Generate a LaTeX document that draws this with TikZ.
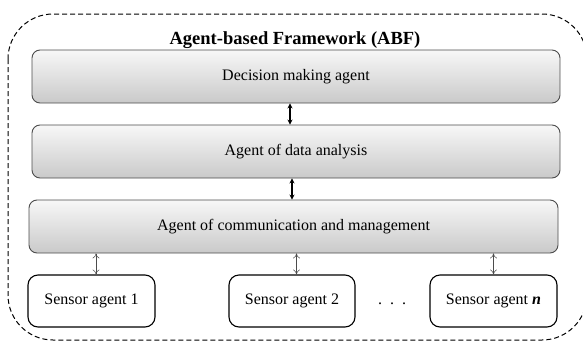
\documentclass[tikz,border=0pt]{standalone}
\usepackage{fontspec}
\setmainfont{Liberation Serif}
\usetikzlibrary{arrows.meta}
\tikzset{
  agentbox/.style={draw=black!70, line width=0.9pt, rounded corners=8pt,
    top color=gray!6, bottom color=gray!42, minimum width=528pt, minimum height=53pt,
    inner sep=0pt, font=\fontsize{16}{19}\selectfont},
  sensorbox/.style={draw=black, line width=1.1pt, rounded corners=10pt, fill=white,
    minimum width=127pt, minimum height=52pt, inner sep=0pt,
    font=\fontsize{16}{19}\selectfont},
  thicklink/.style={line width=1.6pt, {Stealth[length=5pt,width=5pt]}-{Stealth[length=5pt,width=5pt]}},
  thinlink/.style={line width=0.5pt, draw=black!70, {To[length=5pt,width=7pt]}-{To[length=5pt,width=7pt]}},
  framebox/.style={draw=black, line width=1pt, dash pattern=on 5pt off 3pt, rounded corners=45pt}
}
\begin{document}
\begin{tikzpicture}[x=1pt,y=-1pt]
\useasboundingbox (0,0) rectangle (583,343);
\draw[framebox] (8,14) rectangle (587,340);
\node[font=\fontsize{18.5}{22}\selectfont\bfseries] (title) at (295,40) {Agent-based Framework (ABF)};
\node[agentbox] (dec) at (296,76.5) {Decision making agent};
\node[agentbox] (ana) at (296,151.5) {Agent of data analysis};
\node[agentbox, minimum width=529pt] (com) at (293.5,226.5) {Agent of communication and management};
\node[sensorbox] (s1) at (91.5,301) {\strut Sensor agent 1};
\node[sensorbox, minimum width=126pt] (s2) at (292,301) {\strut Sensor agent 2};
\node[sensorbox] (sn) at (493.5,301) {\strut Sensor agent \textbf{\textit{n}}};
\node[font=\fontsize{16}{19}\selectfont, inner sep=0pt] (dots) at (392,301) {\strut .\hspace{8pt}.\hspace{8pt}.};
\draw[thicklink] ([xshift=-6pt]dec.south) -- ([xshift=-6pt]ana.north);
\draw[thicklink] ([xshift=-4pt]ana.south) -- ([xshift=-1.5pt]com.north);
\draw[thinlink] ([xshift=4.5pt]s1.north) -- ([xshift=4.5pt]s1.north |- com.south);
\draw[thinlink] ([xshift=4.5pt]s2.north) -- ([xshift=4.5pt]s2.north |- com.south);
\draw[thinlink] (sn.north) -- (sn.north |- com.south);
\end{tikzpicture}
\end{document}
